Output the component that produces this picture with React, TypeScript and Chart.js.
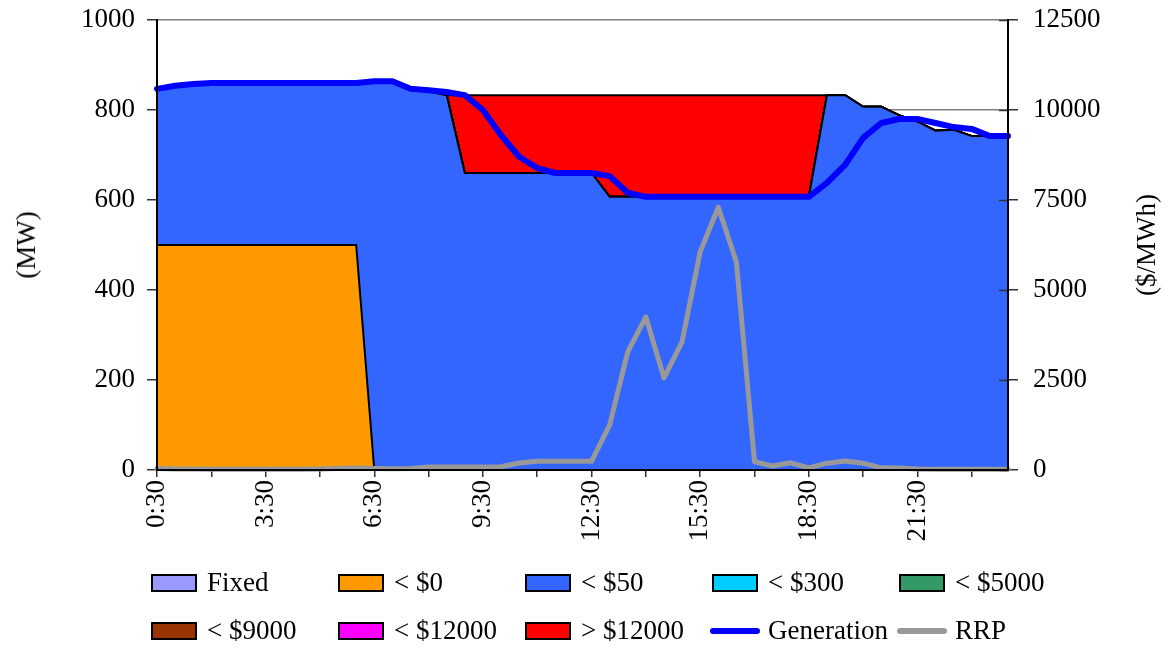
import React, { useEffect, useRef } from 'react';
import { Chart, registerables } from 'chart.js';

Chart.register(...registerables);

const FONT = "'Liberation Serif', 'Times New Roman', serif";

const timeLabels = [
  '0:30', '1:00', '1:30', '2:00', '2:30', '3:00', '3:30', '4:00', '4:30', '5:00', '5:30', '6:00',
  '6:30', '7:00', '7:30', '8:00', '8:30', '9:00', '9:30', '10:00', '10:30', '11:00', '11:30', '12:00',
  '12:30', '13:00', '13:30', '14:00', '14:30', '15:00', '15:30', '16:00', '16:30', '17:00', '17:30', '18:00',
  '18:30', '19:00', '19:30', '20:00', '20:30', '21:00', '21:30', '22:00', '22:30', '23:00', '23:30', '24:00',
];

const fixedMW = [
  0, 0, 0, 0, 0, 0, 0, 0, 0, 0, 0, 0, 0, 0, 0, 0, 0, 0, 0, 0, 0, 0, 0, 0,
  0, 0, 0, 0, 0, 0, 0, 0, 0, 0, 0, 0, 0, 0, 0, 0, 0, 0, 0, 0, 0, 0, 0, 0,
];
const below0MW = [
  500, 500, 500, 500, 500, 500, 500, 500, 500, 500, 500, 500, 0, 0, 0, 0, 0, 0, 0, 0, 0, 0, 0, 0,
  0, 0, 0, 0, 0, 0, 0, 0, 0, 0, 0, 0, 0, 0, 0, 0, 0, 0, 0, 0, 0, 0, 0, 0,
];
const below50MW = [
  344, 351, 355, 357, 357, 357, 357, 357, 357, 357, 357, 357, 861, 861, 844, 841, 833, 660, 660, 660, 660, 660, 660, 660,
  660, 607, 607, 607, 607, 607, 607, 607, 607, 607, 607, 607, 607, 833, 833, 807, 807, 788, 774, 754, 756, 742, 742, 742,
];
const below300MW = [
  0, 0, 0, 0, 0, 0, 0, 0, 0, 0, 0, 0, 0, 0, 0, 0, 0, 0, 0, 0, 0, 0, 0, 0,
  0, 0, 0, 0, 0, 0, 0, 0, 0, 0, 0, 0, 0, 0, 0, 0, 0, 0, 0, 0, 0, 0, 0, 0,
];
const below5000MW = [
  0, 0, 0, 0, 0, 0, 0, 0, 0, 0, 0, 0, 0, 0, 0, 0, 0, 0, 0, 0, 0, 0, 0, 0,
  0, 0, 0, 0, 0, 0, 0, 0, 0, 0, 0, 0, 0, 0, 0, 0, 0, 0, 0, 0, 0, 0, 0, 0,
];
const below9000MW = [
  0, 0, 0, 0, 0, 0, 0, 0, 0, 0, 0, 0, 0, 0, 0, 0, 0, 0, 0, 0, 0, 0, 0, 0,
  0, 0, 0, 0, 0, 0, 0, 0, 0, 0, 0, 0, 0, 0, 0, 0, 0, 0, 0, 0, 0, 0, 0, 0,
];
const below12000MW = [
  0, 0, 0, 0, 0, 0, 0, 0, 0, 0, 0, 0, 0, 0, 0, 0, 0, 0, 0, 0, 0, 0, 0, 0,
  0, 0, 0, 0, 0, 0, 0, 0, 0, 0, 0, 0, 0, 0, 0, 0, 0, 0, 0, 0, 0, 0, 0, 0,
];
const above12000MW = [
  0, 0, 0, 0, 0, 0, 0, 0, 0, 0, 0, 0, 0, 0, 0, 0, 0, 173, 173, 173, 173, 173, 173, 173,
  173, 226, 226, 226, 226, 226, 226, 226, 226, 226, 226, 226, 226, 0, 0, 0, 0, 0, 0, 0, 0, 0, 0, 0,
];
const generationMW = [
  847, 854, 858, 860, 860, 860, 860, 860, 860, 860, 860, 860, 864, 864, 847, 844, 840, 833, 800, 744, 696, 671, 660, 660,
  660, 653, 616, 607, 607, 607, 607, 607, 607, 607, 607, 607, 607, 638, 678, 738, 771, 780, 780, 771, 762, 758, 742, 742,
];
const rrpPrice = [
  40, 30, 25, 20, 20, 20, 20, 20, 20, 25, 40, 55, 45, 35, 40, 85, 85, 85, 85, 90, 195, 245, 245, 245,
  240, 1250, 3280, 4250, 2560, 3560, 6060, 7300, 5780, 230, 110, 200, 60, 190, 250, 190, 60, 55, 30, 20,
  20, 20, 20, 20,
];

const bandNames = ['Fixed', '< $0', '< $50', '< $300', '< $5000', '< $9000', '< $12000', '> $12000'];
const bandColors = ['#9999FF', '#FF9900', '#3366FF', '#00CCFF', '#339966', '#993300', '#FF00FF', '#FF0000'];
const bandSeries = [fixedMW, below0MW, below50MW, below300MW, below5000MW, below9000MW, below12000MW, above12000MW];
const generationColor = '#0000FF';
const rrpColor = '#999999';

const legendCols = [151, 338, 525, 712, 899];
const legendRows = [583, 631];

const innerTicks = {
  id: 'innerTicks',
  afterDatasetsDraw(chart: any) {
    const s = chart.scales.y2;
    const ctx = chart.ctx;
    ctx.save();
    ctx.strokeStyle = '#333';
    ctx.lineWidth = 1.5;
    s.ticks.forEach((t: any) => {
      const y = Math.round(s.getPixelForValue(t.value)) + 0.5;
      ctx.beginPath();
      ctx.moveTo(s.left - 9, y);
      ctx.lineTo(s.left, y);
      ctx.stroke();
    });
    ctx.restore();
  },
};

export default function App() {
  const canvasRef = useRef<HTMLCanvasElement>(null);

  useEffect(() => {
    const canvas = canvasRef.current;
    if (!canvas) return;
    const font = { family: FONT, size: 27 };

    const areaSets = bandSeries.map((data, i) => ({
      type: 'line',
      label: bandNames[i],
      data,
      yAxisID: 'y',
      stack: 'mw',
      fill: i === 0 ? 'origin' : '-1',
      backgroundColor: bandColors[i],
      borderColor: '#000000',
      borderWidth: 2,
      pointRadius: 0,
      tension: 0,
      order: 1,
    }));

    const chart = new Chart(canvas, {
      type: 'line',
      data: {
        labels: timeLabels,
        datasets: [
          ...areaSets,
          {
            type: 'line',
            label: 'Generation',
            data: generationMW,
            yAxisID: 'y',
            stack: 'gen',
            fill: false,
            borderColor: generationColor,
            borderWidth: 6,
            borderJoinStyle: 'round',
            borderCapStyle: 'round',
            pointRadius: 0,
            tension: 0,
            order: 0,
            clip: false,
          },
          {
            type: 'line',
            label: 'RRP',
            data: rrpPrice,
            yAxisID: 'y2',
            fill: false,
            borderColor: rrpColor,
            borderWidth: 5,
            borderJoinStyle: 'round',
            borderCapStyle: 'round',
            pointRadius: 0,
            tension: 0,
            order: 0,
            clip: false,
          },
        ] as any,
      },
      options: {
        responsive: false,
        maintainAspectRatio: false,
        animation: false,
        devicePixelRatio: 1,
        events: [],
        layout: { padding: { top: 20, left: 0, right: 0, bottom: 0 } },
        plugins: {
          legend: { display: false },
          tooltip: { enabled: false },
          title: { display: false },
        },
        scales: {
          x: {
            type: 'category',
            offset: false,
            grid: {
              drawOnChartArea: false,
              tickLength: 7,
              lineWidth: 1.5,
              tickColor: (ctx: any) => (ctx.index % 3 === 0 ? '#333333' : 'rgba(0,0,0,0)'),
            },
            border: { display: true, color: '#000000', width: 2, z: 1 },
            ticks: {
              autoSkip: false,
              maxRotation: 90,
              minRotation: 90,
              padding: 3,
              color: '#000000',
              font,
              callback: (_v: any, i: number) => (i % 6 === 0 ? timeLabels[i] : ''),
            },
            afterFit: (s: any) => {
              s.height = 177;
              s.paddingLeft = 0;
              s.paddingRight = 0;
            },
          },
          y: {
            type: 'linear',
            position: 'left',
            stacked: true,
            min: 0,
            max: 1000,
            grid: {
              drawOnChartArea: true,
              color: '#808080',
              lineWidth: 1.5,
              tickColor: '#333333',
              tickLength: 10,
            },
            border: { display: true, color: '#000000', width: 2, z: 1 },
            ticks: {
              stepSize: 200,
              padding: 12,
              color: '#000000',
              font,
              callback: (v: any) => String(v),
            },
            afterFit: (s: any) => {
              s.width = 157;
              s.paddingTop = 0;
              s.paddingBottom = 0;
            },
          },
          y2: {
            type: 'linear',
            position: 'right',
            min: 0,
            max: 12500,
            grid: {
              drawOnChartArea: false,
              color: '#333333',
              lineWidth: 1.5,
              tickLength: 10,
            },
            border: { display: true, color: '#000000', width: 2, z: 1 },
            ticks: {
              stepSize: 2500,
              padding: 15,
              color: '#000000',
              font,
              callback: (v: any) => String(v),
            },
            afterFit: (s: any) => {
              s.width = 159;
              s.paddingTop = 0;
              s.paddingBottom = 0;
            },
          },
        },
      } as any,
      plugins: [innerTicks],
    });

    return () => {
      chart.destroy();
    };
  }, []);

  const textStyle: React.CSSProperties = {
    position: 'absolute',
    fontFamily: FONT,
    fontSize: 27,
    lineHeight: '30px',
    height: 30,
    whiteSpace: 'nowrap',
    color: '#000',
  };

  const legendItems = [
    ...bandNames.map((name, i) => ({ name, color: bandColors[i], kind: 'box' })),
    { name: 'Generation', color: generationColor, kind: 'line' },
    { name: 'RRP', color: rrpColor, kind: 'line' },
  ];

  return (
    <div style={{ position: 'absolute', left: 0, top: 0, width: 1167, height: 647, background: '#fff' }}>
      <canvas
        ref={canvasRef}
        width={1167}
        height={647}
        style={{ position: 'absolute', left: 0, top: 0, width: 1167, height: 647, display: 'block' }}
      />
      <div
        style={{
          ...textStyle,
          left: 26,
          top: 245,
          transform: 'translate(-50%, -50%) rotate(-90deg)',
        }}
      >
        (MW)
      </div>
      <div
        style={{
          ...textStyle,
          left: 1146,
          top: 245,
          transform: 'translate(-50%, -50%) rotate(-90deg)',
        }}
      >
        ($/MWh)
      </div>
      {legendItems.map((item, idx) => {
        const col = legendCols[idx % 5];
        const row = legendRows[Math.floor(idx / 5)];
        return (
          <React.Fragment key={item.name}>
            {item.kind === 'box' ? (
              <div
                style={{
                  position: 'absolute',
                  left: col,
                  top: row - 9,
                  width: 46,
                  height: 18,
                  boxSizing: 'border-box',
                  border: '2px solid #000',
                  background: item.color,
                }}
              />
            ) : (
              <div
                style={{
                  position: 'absolute',
                  left: col - 2,
                  top: row - 3,
                  width: 50,
                  height: 6,
                  borderRadius: 3,
                  background: item.color,
                }}
              />
            )}
            <div style={{ ...textStyle, left: col + 56, top: row - 16 }}>{item.name}</div>
          </React.Fragment>
        );
      })}
    </div>
  );
}
